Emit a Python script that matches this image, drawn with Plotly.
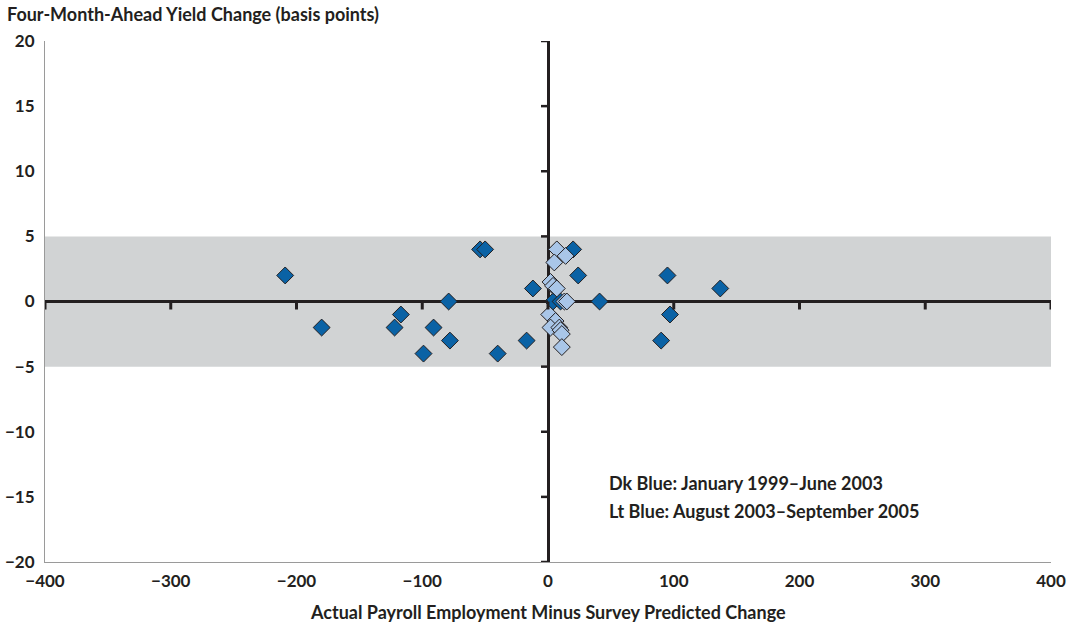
import plotly.graph_objects as go

# Dark blue: January 1999–June 2003
dk_x = [-209, -180, -122, -117, -99, -91, -79, -78, -54, -50, -40, -17, -12, 4, 10, 20, 24, 41, 95, 90, 97, 137]
dk_y = [2, -2, -2, -1, -4, -2, 0, -3, 4, 4, -4, -3, 1, 0, 0, 4, 2, 0, 2, -3, -1, 1]

# Light blue: August 2003–September 2005
lt_x = [7, 14, 5, 2, 4, 7, 13, 15, 1, 6, 2, 9, 10, 11, 11]
lt_y = [4, 3.5, 3, 1.5, 1.2, 1, 0, 0, -1, -1.5, -2, -2, -2.2, -2.5, -3.5]

x_ticks = [-400, -300, -200, -100, 0, 100, 200, 300, 400]
y_ticks = [-20, -15, -10, -5, 0, 5, 10, 15, 20]
band = [-5, 5]

def lab(v):
    return str(v).replace("-", "\u2212")

FONT = "Lato"
AXC = "#231f20"
W, H = 1067, 623
ML, MR, MT, MB = 45, 16, 41, 61

fig = go.Figure()
fig.add_trace(go.Scatter(x=dk_x, y=dk_y, mode="markers", name="Dk Blue",
                         marker=dict(symbol="diamond", size=13, color="#0a62a5",
                                     line=dict(color=AXC, width=1))))
fig.add_trace(go.Scatter(x=lt_x, y=lt_y, mode="markers", name="Lt Blue",
                         marker=dict(symbol="diamond", size=13, color="#a9c6e8",
                                     line=dict(color=AXC, width=1))))

shapes = [dict(type="rect", xref="paper", yref="y", x0=0, x1=1, y0=band[0], y1=band[1],
               fillcolor="#d1d3d4", line=dict(width=0), layer="below")]
for t in x_ticks:
    shapes.append(dict(type="line", xref="x", yref="y", ysizemode="pixel", yanchor=0,
                       x0=t, x1=t, y0=0, y1=-8, line=dict(color=AXC, width=3)))
for t in y_ticks:
    shapes.append(dict(type="line", yref="y", xref="x", xsizemode="pixel", xanchor=0,
                       y0=t, y1=t, x0=0, x1=-7, line=dict(color=AXC, width=2.5)))

tick_font = dict(family=FONT, size=17, color=AXC, weight="bold")
text_font = dict(family=FONT, size=18, color=AXC, weight="bold")
plot_w = W - ML - MR

fig.update_layout(
    width=W, height=H,
    margin=dict(l=ML, r=MR, t=MT, b=MB, autoexpand=False),
    paper_bgcolor="white", plot_bgcolor="white",
    showlegend=False,
    font=dict(family=FONT, color=AXC, size=17),
    shapes=shapes,
    xaxis=dict(range=[-400, 400], tickvals=x_ticks, ticktext=[lab(v) for v in x_ticks],
               showgrid=False, zeroline=True, zerolinecolor=AXC, zerolinewidth=2.5,
               showline=True, linecolor="#9a9a9a", linewidth=1, ticks="",
               ticklabelstandoff=4, automargin=False, tickfont=tick_font),
    yaxis=dict(range=[-20, 20], tickvals=y_ticks, ticktext=[lab(v) for v in y_ticks],
               showgrid=False, zeroline=True, zerolinecolor=AXC, zerolinewidth=3,
               showline=True, linecolor="#9a9a9a", linewidth=1, ticks="",
               ticklabelstandoff=6, automargin=False, tickfont=tick_font),
    annotations=[
        dict(text="Four-Month-Ahead Yield Change (basis points)", xref="paper", yref="paper",
             x=-(ML - 5) / plot_w, y=1.0, yshift=27, xanchor="left", yanchor="middle",
             showarrow=False, font=text_font),
        dict(text="Actual Payroll Employment Minus Survey Predicted Change", xref="paper",
             yref="paper", x=0.5, y=0.0, yshift=-50, xanchor="center", yanchor="middle",
             showarrow=False, font=text_font),
        dict(text="Dk Blue: January 1999\u2013June 2003", xref="x", yref="y", x=47, y=-13.9,
             xanchor="left", yanchor="middle", showarrow=False, font=text_font),
        dict(text="Lt Blue: August 2003\u2013September 2005", xref="x", yref="y", x=47, y=-16.1,
             xanchor="left", yanchor="middle", showarrow=False, font=text_font),
    ],
)

fig.write_html("out.html", config={"displayModeBar": False},
               post_script="document.body.style.margin='0';document.body.style.padding='0';")
